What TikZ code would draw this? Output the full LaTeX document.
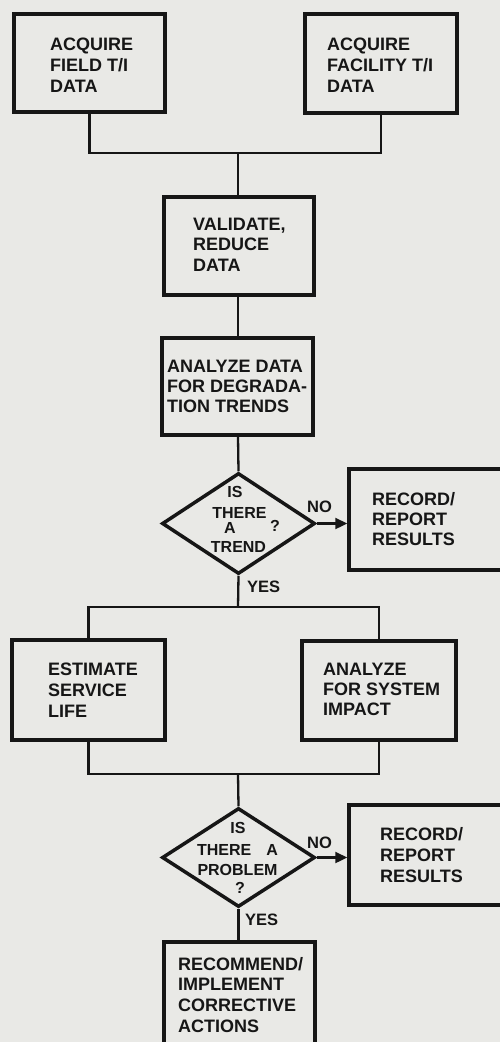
\documentclass[tikz,border=0pt]{standalone}
\usepackage{fontspec}
\setmainfont{Liberation Sans}
\usetikzlibrary{shapes.geometric,arrows.meta}
\definecolor{paper}{RGB}{233,233,230}
\definecolor{ink}{RGB}{22,22,22}
\newcommand\Stk[2]{\vtop{\baselineskip=#1\relax\lineskiplimit=-50pt\lineskip=0pt\def\\{\egroup\hbox\bgroup}\hbox\bgroup#2\egroup}}
\tikzset{
  box/.style={draw=ink, line width=3.5pt, inner sep=0pt, rectangle},
  dec/.style={draw=ink, line width=3.5pt, diamond, inner sep=0pt},
  wire/.style={draw=ink, line width=2.3pt},
  txt/.style={inner sep=0pt, anchor=base west, text=ink, font=\bfseries\fontsize{18}{21}\selectfont},
  dtxt/.style={inner sep=0pt, anchor=base, text=ink, font=\bfseries\fontsize{16}{18}\selectfont},
  lbl/.style={inner sep=0pt, anchor=base west, text=ink, font=\bfseries\fontsize{16.5}{18}\selectfont},
  arr/.style={wire, -{Triangle[length=12pt,width=11pt]}}
}
\begin{document}
\begin{tikzpicture}[x=1pt,y=-1pt]
\useasboundingbox (0,0) rectangle (500,1042);
\clip (0,0) rectangle (500,1042);
\fill[paper] (0,0) rectangle (500,1042);

% boxes
\node[box, minimum width=151pt, minimum height=98pt] (b1) at (89.5,63) {};
\node[box, minimum width=152pt, minimum height=99pt] (b2) at (381,63.5) {};
\node[box, minimum width=150pt, minimum height=98pt] (b3) at (239,246) {};
\node[box, minimum width=151pt, minimum height=97pt] (b4) at (237.5,386.5) {};
\node[dec, minimum width=153pt, minimum height=101pt] (d1) at (238.5,523.5) {};
\node[box, minimum width=171pt, minimum height=101pt] (r1) at (434.5,519.5) {};
\node[box, minimum width=153pt, minimum height=100pt] (b5) at (88.5,690) {};
\node[box, minimum width=154pt, minimum height=99pt] (b6) at (379,690.5) {};
\node[dec, minimum width=153pt, minimum height=99pt] (d2) at (238.5,857.5) {};
\node[box, minimum width=171pt, minimum height=100pt] (r2) at (434.5,855) {};
\node[box, minimum width=151pt, minimum height=118pt] (b7) at (239.5,1001) {};

% junctions
\coordinate (j1) at (238,153);
\coordinate (j2) at (238,607);
\coordinate (j3) at (238,774);

% connectors
\draw[wire] (b1.south) |- (j1) -| (b2.south);
\draw[wire] (j1) -- (j1 |- b3.north);
\draw[wire] (b3.south -| j1) -- (j1 |- b4.north);
\draw[wire] (b4.south -| j1) -- (d1.north);
\draw[arr] (d1.east) -- (d1.east -| r1.west);
\draw[wire] (d1.south) -- (j2);
\draw[wire] (b5.north) |- (j2) -| (b6.north);
\draw[wire] (b5.south) |- (j3) -| (b6.south);
\draw[wire] (j3) -- (d2.north);
\draw[arr] (d2.east) -- (d2.east -| r2.west);
\draw[wire] (d2.south) -- (d2.south |- b7.north);

% box texts
\node[txt] (t1) at (50,50) {\Stk{21pt}{ACQUIRE\\FIELD T/I\\DATA}};
\node[txt] (t2) at (327,50) {\Stk{21pt}{ACQUIRE\\FACILITY T/I\\DATA}};
\node[txt] (t3) at (193,230) {\Stk{20.5pt}{VALIDATE,\\REDUCE\\DATA}};
\node[txt] (t4) at (167,372) {\Stk{20pt}{ANALYZE DATA\\FOR DEGRADA-\\TION TRENDS}};
\node[txt] (tr1) at (372,505) {\Stk{20pt}{RECORD/\\REPORT\\RESULTS}};
\node[txt] (t5) at (48,675) {\Stk{21pt}{ESTIMATE\\SERVICE\\LIFE}};
\node[txt] (t6) at (323,675) {\Stk{20pt}{ANALYZE\\FOR SYSTEM\\IMPACT}};
\node[txt] (tr2) at (380,840) {\Stk{21pt}{RECORD/\\REPORT\\RESULTS}};
\node[txt] (t7) at (178,970) {\Stk{20.7pt}{RECOMMEND/\\IMPLEMENT\\CORRECTIVE\\ACTIONS}};

% decision 1 text
\node[dtxt] (q1a) at (235,497) {IS};
\node[dtxt] (q1b) at (239.5,518) {THERE};
\node[dtxt] (q1c) at (230,533) {A};
\node[dtxt] (q1d) at (275,531) {?};
\node[dtxt] (q1e) at (238.5,552) {TREND};

% decision 2 text
\node[dtxt] (q2a) at (238,833) {IS};
\node[dtxt] (q2b) at (237.5,855) {\makebox[81pt]{THERE\hfill A}};
\node[dtxt] (q2c) at (237.5,875) {PROBLEM};
\node[dtxt] (q2d) at (240,893) {?};

% labels
\node[lbl] (no1) at (307,512) {NO};
\node[lbl] (yes1) at (247,592) {YES};
\node[lbl] (no2) at (307,848) {NO};
\node[lbl] (yes2) at (245,925) {YES};
\end{tikzpicture}
\end{document}
